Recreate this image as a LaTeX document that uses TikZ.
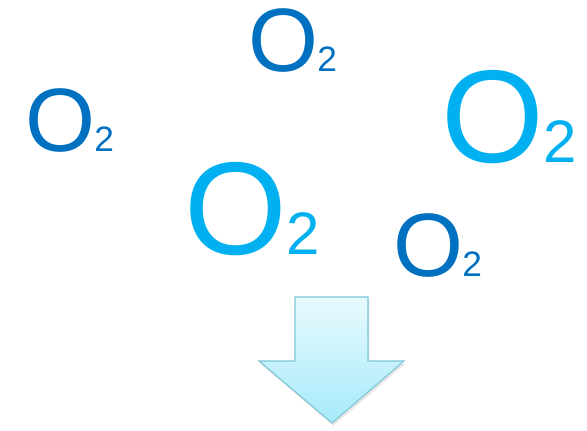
\documentclass[tikz,border=0pt]{standalone}
\usepackage{fontspec}
\setmainfont{Liberation Sans}
\usetikzlibrary{shadows}
\definecolor{darkO}{HTML}{0070C0}
\definecolor{lightO}{HTML}{00B0F0}
\definecolor{arrowtop}{HTML}{E8FAFE}
\definecolor{arrowbot}{HTML}{A6EAFA}
\definecolor{arrowline}{HTML}{7CC6D6}
\newcommand{\molO}[2]{{\fontsize{#1}{#1}\selectfont O}\kern-0.065em{\fontsize{#2}{#2}\selectfont 2}}

\begin{document}
\begin{tikzpicture}[x=0.75pt,y=-0.75pt,
  oxy/.style={inner sep=0pt,anchor=base west}]
\useasboundingbox (0,0) rectangle (587,430);

\node[oxy,text=darkO] (T) at (248,71) {\molO{67.5pt}{26.5pt}};
\node[oxy,text=darkO] (L) at (25,151) {\molO{67.5pt}{26.5pt}};
\node[oxy,text=darkO] (B) at (393,276) {\molO{67.5pt}{26.5pt}};
\node[oxy,text=lightO] (R) at (441.5,162) {\molO{99pt}{45pt}};
\node[oxy,text=lightO] (C) at (184.5,254) {\molO{99pt}{45pt}};

\coordinate (A1) at (295,297);
\coordinate (A2) at (368,297);
\coordinate (A3) at (368,361);
\coordinate (A4) at (404,361);
\coordinate (A5) at (332,423);
\coordinate (A6) at (259,361);
\coordinate (A7) at (295,361);
\path[top color=arrowtop,bottom color=arrowbot,draw=arrowline,line width=0.8pt,
  drop shadow={opacity=0.2,shadow xshift=1pt,shadow yshift=-2pt}]
  (A1) -- (A2) -- (A3) -- (A4) -- (A5) -- (A6) -- (A7) -- cycle;
\end{tikzpicture}
\end{document}
